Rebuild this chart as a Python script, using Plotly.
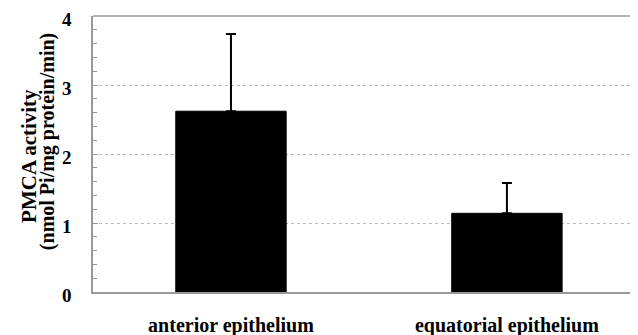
import plotly.graph_objects as go

categories = ["anterior epithelium", "equatorial epithelium"]
values = [2.62, 1.14]
errors = [1.12, 0.44]
tick_vals = [0, 1, 2, 3, 4]
tick_text = ["0", "1", "2", "3", "4"]
title_lines = ["PMCA activity", "(nmol Pi/mg protein/min)"]

font_family = "Times New Roman"

fig = go.Figure(go.Bar(
    x=categories, y=values, width=0.40,
    marker=dict(color="black", line=dict(color="black", width=1)),
    error_y=dict(type="data", array=errors, arrayminus=[0, 0], symmetric=False,
                 color="black", thickness=2, width=5),
))

fig.update_layout(
    width=630, height=327,
    margin=dict(l=85, r=0, t=8, b=43, autoexpand=False),
    paper_bgcolor="white", plot_bgcolor="white",
    showlegend=False,
    font=dict(family=font_family, color="black"),
    xaxis=dict(
        range=[-0.5, 1.475], showline=True, linecolor="#999999", linewidth=1.5,
        ticks="", ticklabelstandoff=14, automargin=False, ticklabeloverflow="allow",
        tickfont=dict(family=font_family, size=20, weight="bold"),
        mirror=False, zeroline=False,
    ),
    yaxis=dict(
        range=[0, 4], tickvals=tick_vals, ticktext=tick_text,
        showline=True, linecolor="#999999", linewidth=1.5,
        ticks="inside", ticklen=5, tickcolor="#999999",
        ticklabelstandoff=16, ticklabelshift=3, automargin=False, ticklabeloverflow="allow",
        tickfont=dict(family=font_family, size=19, weight="bold"),
        showgrid=True, gridcolor="#bbbbbb", griddash="dot", gridwidth=1,
        minor=dict(dtick=0.2, ticks="inside", ticklen=4, tickcolor="#999999", showgrid=False),
        zeroline=False,
    ),
    shapes=[dict(type="line", xref="paper", yref="paper", x0=0, x1=1, y0=1, y1=1,
                 line=dict(color="#999999", width=1.5))],
    annotations=[
        dict(text=title_lines[0], xref="paper", yref="paper", x=-(85 - 21) / 545, y=0.493,
             xanchor="center", yanchor="middle", textangle=-90, showarrow=False,
             font=dict(family=font_family, size=21, weight="bold")),
        dict(text=title_lines[1], xref="paper", yref="paper", x=-(85 - 39) / 545, y=0.543,
             xanchor="center", yanchor="middle", textangle=-90, showarrow=False,
             font=dict(family=font_family, size=20, weight="bold")),
    ],
)

fig.write_html("out.html")
